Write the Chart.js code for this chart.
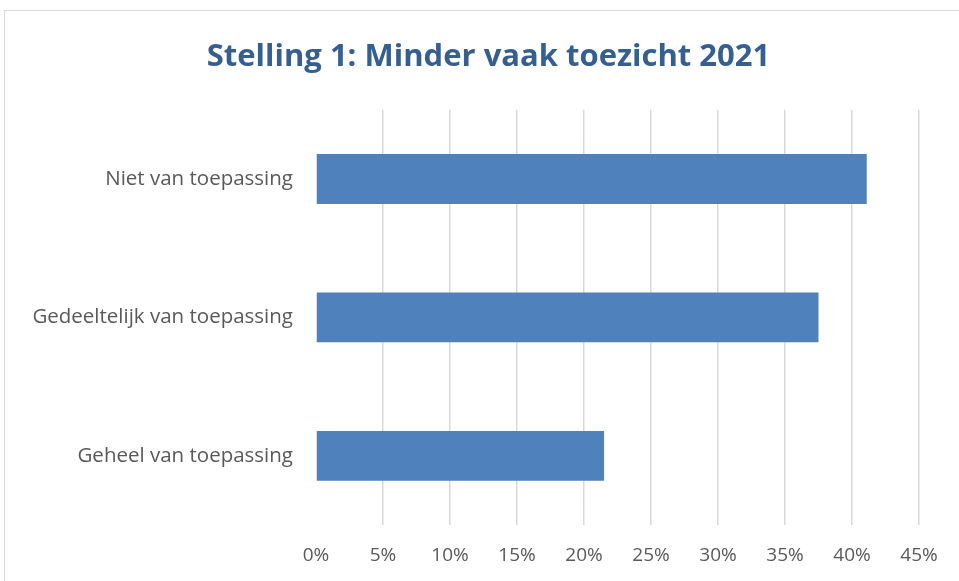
<!DOCTYPE html>
<html>
<head>
<meta charset="utf-8">
<script src="https://cdn.jsdelivr.net/npm/chart.js@4/dist/chart.umd.min.js"></script>
<style>
  html, body { margin: 0; padding: 0; background: #ffffff; }
  #wrap { position: relative; width: 959px; height: 581px; overflow: hidden; }
  #frame { position: absolute; left: 4px; top: 10px; width: 1000px; height: 620px; border: 1px solid #D9D9D9; box-sizing: border-box; }
  #c { position: absolute; left: 0; top: 0; }
</style>
</head>
<body>
<div id="wrap">
  <div id="frame"></div>
  <canvas id="c" width="959" height="581"></canvas>
</div>
<script>
const titleText = 'Stelling 1: Minder vaak toezicht 2021';
const categories = ['Niet van toepassing', 'Gedeeltelijk van toepassing', 'Geheel van toepassing'];
const values = [41.1, 37.5, 21.5];
const tickMin = 0;
const tickMax = 45;
const tickStep = 5;

const FONT = '"Open Sans", "Liberation Sans", sans-serif';

new Chart(document.getElementById('c'), {
  type: 'bar',
  data: {
    labels: categories,
    datasets: [{
      data: values,
      backgroundColor: '#4F81BD',
      borderWidth: 0,
      categoryPercentage: 0.6,
      barPercentage: 0.6
    }]
  },
  options: {
    indexAxis: 'y',
    responsive: false,
    animation: false,
    layout: { padding: { left: 18, right: 0, top: 0, bottom: 0 } },
    plugins: {
      legend: { display: false },
      tooltip: { enabled: false },
      title: {
        display: true,
        text: titleText,
        color: '#365F91',
        font: { family: FONT, size: 31, weight: 'bold' },
        padding: { top: 39, bottom: 33.6 }
      }
    },
    scales: {
      x: {
        min: tickMin,
        max: tickMax,
        border: { display: false },
        grid: {
          color: (ctx) => ctx.index === 0 ? 'rgba(0,0,0,0)' : '#D9D9D9',
          lineWidth: 1.5,
          drawTicks: false
        },
        ticks: {
          stepSize: tickStep,
          color: '#595959',
          font: { family: FONT, size: 19 },
          padding: 19,
          callback: (v) => v + '%'
        },
        afterFit: (s) => { s.height = 56; }
      },
      y: {
        border: { display: false },
        grid: { display: false, drawTicks: false },
        ticks: {
          color: '#595959',
          font: { family: FONT, size: 20.5 },
          padding: 23
        },
        afterFit: (s) => { s.width = 298; }
      },
      yRight: {
        type: 'category',
        position: 'right',
        labels: categories,
        border: { display: false },
        grid: { display: false, drawTicks: false },
        ticks: { display: false },
        afterFit: (s) => { s.width = 40; }
      }
    }
  }
});
</script>
</body>
</html>
